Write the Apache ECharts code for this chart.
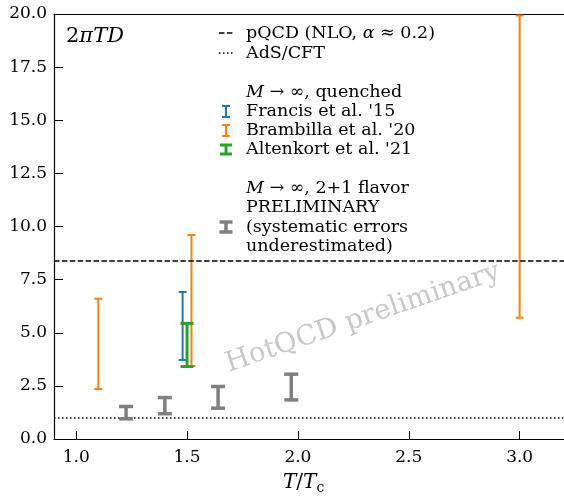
<!DOCTYPE html>
<html>
<head>
<meta charset="utf-8">
<script src="https://cdn.jsdelivr.net/npm/echarts@6/dist/echarts.min.js"></script>
<style>
  html, body { margin: 0; padding: 0; background: #fff; }
  #chart { width: 564px; height: 497px; }
</style>
</head>
<body>
<div id="chart"></div>
<script>
// Heavy-quark diffusion coefficient 2πTD versus T/Tc
const xTicks = [1.0, 1.5, 2.0, 2.5, 3.0];

// [T/Tc, lower, upper]
const francis15 = [[1.48, 3.72, 6.92]];
const brambilla20 = [[1.1, 2.35, 6.6], [1.52, 3.44, 9.6], [3.0, 5.71, 19.93]];
const altenkort21 = [[1.5, 3.41, 5.44]];
const flavor21 = [[1.225, 0.95, 1.53], [1.4, 1.19, 1.95], [1.64, 1.45, 2.47], [1.97, 1.84, 3.05]];

const pQCD = 8.4;     // NLO, alpha ~ 0.2
const adsCFT = 1.0;

const SERIF = '"DejaVu Serif", "Liberation Serif", serif';
const C_BLUE = '#1f77b4', C_ORANGE = '#ff7f0e', C_GREEN = '#2ca02c', C_GRAY = '#7f7f7f';

function errorBars(name, data, color, width, capHalf, z) {
  return {
    type: 'custom',
    name: name,
    data: data,
    z: z,
    encode: { x: 0, y: [1, 2] },
    renderItem: function (params, api) {
      const x = api.value(0);
      const lo = api.coord([x, api.value(1)]);
      const hi = api.coord([x, api.value(2)]);
      const style = { stroke: color, lineWidth: width, lineCap: 'butt' };
      return {
        type: 'group',
        children: [
          { type: 'line', shape: { x1: lo[0], y1: lo[1], x2: hi[0], y2: hi[1] }, style: style },
          { type: 'line', shape: { x1: lo[0] - capHalf, y1: lo[1], x2: lo[0] + capHalf, y2: lo[1] }, style: style },
          { type: 'line', shape: { x1: hi[0] - capHalf, y1: hi[1], x2: hi[0] + capHalf, y2: hi[1] }, style: style }
        ]
      };
    }
  };
}

// Legend drawn as graphic items
const lx = 246;
const LF = 17.5;
function legendText(y, text, rich) {
  return { type: 'text', x: lx, y: y, z: 20,
    style: { text: text, font: LF + 'px ' + SERIF, fill: '#000', verticalAlign: 'middle', rich: rich || {} } };
}
function legendBar(y, color, w, capHalf, h) {
  const cx = 226;
  const s = { stroke: color, lineWidth: w };
  return { type: 'group', z: 20, children: [
    { type: 'line', shape: { x1: cx, y1: y - h / 2, x2: cx, y2: y + h / 2 }, style: s },
    { type: 'line', shape: { x1: cx - capHalf, y1: y - h / 2, x2: cx + capHalf, y2: y - h / 2 }, style: s },
    { type: 'line', shape: { x1: cx - capHalf, y1: y + h / 2, x2: cx + capHalf, y2: y + h / 2 }, style: s }
  ]};
}
const italicRich = { i: { font: 'italic ' + LF + 'px ' + SERIF, fill: '#000' } };

const chart = echarts.init(document.getElementById('chart'), null, { renderer: 'canvas' });
chart.setOption({
  animation: false,
  backgroundColor: '#fff',
  grid: { left: 54, right: 0, top: 14, bottom: 58 },
  xAxis: [{
    type: 'value', min: 0.9, max: 3.2,
    axisLine: { show: true, onZero: false, lineStyle: { color: '#000', width: 1.2 } },
    axisTick: { show: true, inside: true, length: 8, customValues: xTicks, lineStyle: { color: '#000', width: 1 } },
    axisLabel: { customValues: xTicks, formatter: v => v.toFixed(1), fontFamily: SERIF, fontSize: 17, color: '#000', margin: 10 },
    splitLine: { show: false }
  }, {
    type: 'value', min: 0.9, max: 3.2, position: 'top',
    axisLine: { show: true, onZero: false, lineStyle: { color: '#000', width: 1.2 } },
    axisTick: { show: false }, axisLabel: { show: false }, splitLine: { show: false }
  }],
  yAxis: {
    type: 'value', min: 0, max: 20, interval: 2.5,
    axisLine: { show: true, lineStyle: { color: '#000', width: 1.2 } },
    axisTick: { show: true, inside: true, length: 9, lineStyle: { color: '#000', width: 1 } },
    axisLabel: { formatter: v => v.toFixed(1), fontFamily: SERIF, fontSize: 17, color: '#000', margin: 7 },
    splitLine: { show: false }
  },
  series: [
    {
      type: 'line', data: [], silent: true,
      markLine: {
        symbol: 'none', silent: true, label: { show: false },
        data: [
          { yAxis: pQCD, lineStyle: { color: '#000', width: 1.5, type: [5.5, 2.4] } },
          { yAxis: adsCFT, lineStyle: { color: '#000', width: 1.5, type: [1.5, 2.5] } }
        ]
      }
    },
    errorBars("Francis et al. '15", francis15, C_BLUE, 2, 4, 5),
    errorBars("Brambilla et al. '20", brambilla20, C_ORANGE, 2, 4, 4),
    errorBars("Altenkort et al. '21", altenkort21, C_GREEN, 3, 6.5, 6),
    errorBars('2+1 flavor', flavor21, C_GRAY, 3.5, 7, 7)
  ],
  graphic: [
    // panel label
    { type: 'text', x: 66, y: 37, z: 20,
      style: { text: '2{i|πTD}', font: '21px ' + SERIF, fill: '#000', verticalAlign: 'middle',
        rich: { i: { font: 'italic 21px ' + SERIF, fill: '#000' } } } },
    // x axis title
    { type: 'text', x: 283, y: 483, z: 20,
      style: { text: '{i|T}/{i|T}{s|c}', font: '20px ' + SERIF, fill: '#000', verticalAlign: 'middle',
        rich: { i: { font: 'italic 20px ' + SERIF, fill: '#000' },
                s: { font: '14px ' + SERIF, fill: '#000', padding: [10, 0, 0, 0] } } } },
    // watermark
    { type: 'text', x: 363, y: 318, rotation: 19 * Math.PI / 180, z: 1,
      style: { text: 'HotQCD preliminary', font: '27.5px ' + SERIF, fill: '#c8c8c8', align: 'center', verticalAlign: 'middle' } },
    // legend
    { type: 'line', z: 20, shape: { x1: 219, y1: 33, x2: 233, y2: 33 }, style: { stroke: '#000', lineWidth: 1.5, lineDash: [5.5, 2.4] } },
    legendText(33, 'pQCD (NLO, {i|α} ≈ 0.2)', italicRich),
    { type: 'line', z: 20, shape: { x1: 219, y1: 53, x2: 233, y2: 53 }, style: { stroke: '#000', lineWidth: 1.5, lineDash: [1.5, 2.5] } },
    legendText(53, 'AdS/CFT'),
    legendText(92.5, '{i|M} → ∞, quenched', italicRich),
    legendBar(111.5, C_BLUE, 2, 4, 11),
    legendText(111.5, "Francis et al. '15"),
    legendBar(130.5, C_ORANGE, 2, 4, 11),
    legendText(130.5, "Brambilla et al. '20"),
    legendBar(149.5, C_GREEN, 3, 6, 9),
    legendText(149.5, "Altenkort et al. '21"),
    legendText(188, '{i|M} → ∞, 2+1 flavor', italicRich),
    legendText(207, 'PRELIMINARY'),
    legendBar(227, C_GRAY, 3.5, 6.5, 10),
    legendText(227, '(systematic errors'),
    legendText(246, 'underestimated)')
  ]
});
</script>
</body>
</html>
